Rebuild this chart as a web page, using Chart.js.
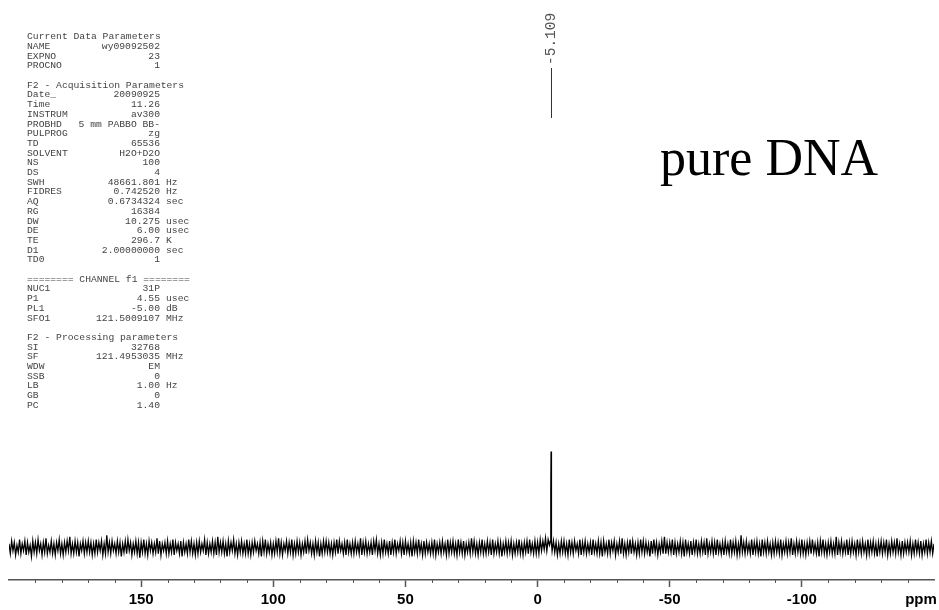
<!DOCTYPE html>
<html>
<head>
<meta charset="utf-8">
<script src="https://cdn.jsdelivr.net/npm/chart.js@4.4.0/dist/chart.umd.min.js"></script>
<style>
  html, body { margin: 0; padding: 0; background: #fff; }
  #wrap { width: 939px; height: 610px; position: relative; }
</style>
</head>
<body>
<div id="wrap"><canvas id="espectro"></canvas></div>
<script>
// 31P spectrum, 0.5 ppm steps from 200 down to -150 ppm (intensity in plot units)
const ppmStart = 200;
const ppmStep = 0.5;
const ruido = [
  3,-4,5,-2,4,-5,2,-3,6,-4,3,-2,5,-5,4,-3,2,-6,5,-3,
  4,-4,6,-2,3,-5,4,-3,7,-4,2,-3,5,-4,3,-5,4,-2,6,-4,
  3,-5,4,-3,5,-2,8,-4,3,-4,5,-3,4,-6,3,-2,5,-4,4,-3,
  5,-3,4,-5,3,-4,6,-3,4,-2,5,-5,3,-4,9,-3,4,-4,5,-2,
  3,-4,5,-3,4,-6,3,-3,5,-4,6,-2,4,-5,3,-3,5,-4,4,-7,
  4,-3,6,-4,3,-5,5,-2,4,-4,3,-3,7,-4,5,-5,3,-2,4,-4,
  5,-4,3,-3,6,-5,4,-2,3,-4,5,-6,4,-3,3,-4,6,-3,5,-4,
  3,-5,4,-4,5,-3,3,-2,6,-5,4,-4,3,-3,5,-4,4,-5,8,-3,
  4,-3,5,-4,3,-6,5,-3,4,-2,6,-4,3,-5,4,-3,5,-4,3,-4,
  6,-4,3,-5,4,-3,5,-2,3,-4,4,-6,5,-3,6,-4,3,-3,4,-5,
  3,-4,5,-3,7,-4,4,-5,3,-2,5,-4,4,-3,6,-5,3,-4,5,-3,
  4,-5,3,-3,5,-4,6,-2,4,-4,3,-5,5,-3,4,-6,3,-4,5,-3,
  5,-3,4,-4,3,-5,4,-3,6,-4,5,-2,3,-4,4,-5,6,-3,3,-4,
  4,-4,5,-3,3,-4,7,-5,4,-3,5,-4,3,-3,4,-5,5,-2,6,-4,
  3,-5,4,-4,6,-3,3,-4,5,-5,4,-3,6,-4,3,-2,5,-4,4,-5,
  5,-3,3,-4,4,-6,5,-3,4,-4,6,-3,3,-5,5,-4,4,-3,3,-4,
  4,-4,6,-5,3,-3,4,-4,5,-3,3,-5,6,-4,4,-3,5,-4,3,-5,
  6,-3,4,-4,5,-5,3,-3,4,-4,7,-3,5,-4,3,-5,4,-3,6,-4,
  3,-4,5,-3,4,-5,6,-4,3,-3,5,-4,4,-6,3,-3,5,-4,4,-3,
  5,-5,3,-4,4,-3,6,-4,3,-5,4,-3,5,-4,6,-3,3,-4,5,-4,
  4,-4,6,-2,5,-1,7,-2,6,-1,0,-4,5,-3,4,-5,3,-4,5,-3,
  5,-4,3,-5,6,-3,4,-4,5,-2,3,-4,6,-5,4,-3,5,-4,3,-3,
  4,-5,6,-3,3,-4,5,-4,4,-6,5,-3,3,-4,6,-4,4,-2,5,-5,
  3,-3,5,-4,7,-4,3,-5,4,-3,6,-4,5,-3,3,-5,4,-4,6,-3,
  5,-4,4,-3,3,-6,5,-4,6,-3,4,-5,3,-3,5,-4,8,-4,4,-3,
  4,-3,6,-5,4,-4,3,-3,5,-4,4,-6,6,-3,3,-4,5,-5,4,-3,
  6,-4,3,-4,5,-3,4,-5,7,-4,3,-3,5,-4,4,-5,6,-3,3,-4,
  4,-5,5,-3,3,-4,6,-4,4,-3,5,-5,3,-4,9,-3,4,-4,5,-3,
  3,-4,6,-5,4,-3,5,-4,3,-6,6,-3,4,-4,5,-3,3,-5,4,-4,
  5,-3,4,-4,6,-5,3,-3,5,-4,4,-3,7,-5,3,-4,5,-3,4,-4,
  6,-4,3,-5,4,-3,5,-4,6,-3,3,-4,4,-6,5,-3,6,-4,3,-5,
  4,-3,5,-4,3,-4,8,-5,4,-3,5,-4,3,-3,6,-5,4,-4,5,-3,
  3,-5,6,-3,4,-4,5,-3,3,-5,6,-4,4,-3,5,-4,3,-6,4,-3,
  5,-4,4,-3,6,-5,3,-4,5,-3,4,-4,7,-3,3,-5,5,-4,4,-3,
  4,-3,5,-5,3,-4,6,-3,4,-4,5,-5,3,-3,6,-4,4,-3,5,-4,
  3
];

// the single phosphate line
const picoPpm = [-4.5, -4.85, -4.98, -5.05, -5.109, -5.16, -5.23, -5.35, -5.5];
const picoInt = [2, 5, 16, 43, 69, 46, 17, 4, -2];
const picoLabel = '-5.109';

const eixoMin = -150;
const eixoMax = 200;
const eixoLabels = [150, 100, 50, 0, -50, -100];

const titulo = 'pure DNA';

const parametros = [
  ['Current Data Parameters', '', ''],
  ['NAME', 'wy09092502', ''],
  ['EXPNO', '23', ''],
  ['PROCNO', '1', ''],
  null,
  ['F2 - Acquisition Parameters', '', ''],
  ['Date_', '20090925', ''],
  ['Time', '11.26', ''],
  ['INSTRUM', 'av300', ''],
  ['PROBHD', '5 mm PABBO BB-', ''],
  ['PULPROG', 'zg', ''],
  ['TD', '65536', ''],
  ['SOLVENT', 'H2O+D2O', ''],
  ['NS', '100', ''],
  ['DS', '4', ''],
  ['SWH', '48661.801', 'Hz'],
  ['FIDRES', '0.742520', 'Hz'],
  ['AQ', '0.6734324', 'sec'],
  ['RG', '16384', ''],
  ['DW', '10.275', 'usec'],
  ['DE', '6.00', 'usec'],
  ['TE', '296.7', 'K'],
  ['D1', '2.00000000', 'sec'],
  ['TD0', '1', ''],
  null,
  ['======== CHANNEL f1 ========', '', ''],
  ['NUC1', '31P', ''],
  ['P1', '4.55', 'usec'],
  ['PL1', '-5.00', 'dB'],
  ['SFO1', '121.5009107', 'MHz'],
  null,
  ['F2 - Processing parameters', '', ''],
  ['SI', '32768', ''],
  ['SF', '121.4953035', 'MHz'],
  ['WDW', 'EM', ''],
  ['SSB', '0', ''],
  ['LB', '1.00', 'Hz'],
  ['GB', '0', ''],
  ['PC', '1.40', '']
];

function montaPontos() {
  const pontos = [];
  ruido.forEach((v, i) => {
    const ppm = ppmStart - i * ppmStep;
    if (ppm <= picoPpm[0] && ppm >= picoPpm[picoPpm.length - 1]) return;
    pontos.push({ x: ppm, y: v });
  });
  picoPpm.forEach((p, i) => pontos.push({ x: p, y: picoInt[i] }));
  pontos.sort((a, b) => b.x - a.x);
  return pontos;
}

const anotacoes = {
  id: 'anotacoes',
  afterDraw(chart) {
    const ctx = chart.ctx;
    const xs = chart.scales.x;
    const base = chart.chartArea.bottom;

    // minor ticks every 10 ppm
    ctx.save();
    ctx.strokeStyle = '#555';
    ctx.lineWidth = 1;
    for (let v = eixoMax - 10; v > eixoMin; v -= 10) {
      if (v % 50 === 0) continue;
      const px = Math.round(xs.getPixelForValue(v)) + 0.5;
      ctx.beginPath();
      ctx.moveTo(px, base);
      ctx.lineTo(px, base + 3);
      ctx.stroke();
    }

    ctx.fillStyle = '#000';
    ctx.font = 'bold 15px "Liberation Sans", Arial, sans-serif';
    ctx.textAlign = 'center';
    ctx.textBaseline = 'middle';
    ctx.fillText('ppm', 921, 600);

    // peak marker
    const xp = Math.round(xs.getPixelForValue(picoPpm[4])) + 0.5;
    ctx.strokeStyle = '#333';
    ctx.beginPath();
    ctx.moveTo(xp, 68);
    ctx.lineTo(xp, 118);
    ctx.stroke();
    ctx.save();
    ctx.translate(xp, 65);
    ctx.rotate(-Math.PI / 2);
    ctx.fillStyle = '#555';
    ctx.font = '14.5px "Liberation Mono", monospace';
    ctx.textAlign = 'left';
    ctx.textBaseline = 'middle';
    ctx.fillText(picoLabel, 0, 0);
    ctx.restore();

    // title
    ctx.fillStyle = '#000';
    ctx.font = '52px "Liberation Serif", "Times New Roman", serif';
    ctx.textAlign = 'left';
    ctx.textBaseline = 'alphabetic';
    ctx.fillText(titulo, 660, 175);

    // acquisition parameters block
    ctx.fillStyle = '#444';
    ctx.font = '9.7px "Liberation Mono", monospace';
    ctx.textBaseline = 'middle';
    parametros.forEach((linha, i) => {
      if (!linha) return;
      const y = 36.7 + i * 9.7;
      ctx.textAlign = 'left';
      ctx.fillText(linha[0], 27, y);
      if (linha[1]) {
        ctx.textAlign = 'right';
        ctx.fillText(linha[1], 160, y);
      }
      if (linha[2]) {
        ctx.textAlign = 'left';
        ctx.fillText(linha[2], 166, y);
      }
    });
    ctx.restore();
  }
};

function geraEspectro() {
  const canva = document.getElementById('espectro');

  new Chart(canva, {
    type: 'line',
    data: {
      datasets: [{
        data: montaPontos(),
        borderColor: '#000',
        borderWidth: 1.3,
        pointRadius: 0,
        tension: 0,
        fill: false
      }]
    },
    options: {
      responsive: true,
      maintainAspectRatio: false,
      animation: false,
      events: [],
      layout: { padding: { left: 9, right: 2, top: 0, bottom: -2 } },
      plugins: {
        legend: { display: false },
        tooltip: { enabled: false }
      },
      scales: {
        x: {
          type: 'linear',
          reverse: true,
          min: eixoMin,
          max: eixoMax,
          border: { display: true, color: '#555', width: 1.5 },
          grid: {
            drawOnChartArea: false,
            tickLength: 7,
            tickWidth: 1.5,
            tickColor: ctx => (ctx.tick && eixoLabels.includes(ctx.tick.value)) ? '#555' : 'rgba(0,0,0,0)'
          },
          ticks: {
            stepSize: 10,
            autoSkip: false,
            maxRotation: 0,
            padding: 5,
            color: '#000',
            font: { family: '"Liberation Sans", Arial, sans-serif', weight: 'bold', size: 15, lineHeight: 1 },
            callback: v => eixoLabels.includes(v) ? String(v) : ''
          }
        },
        y: {
          display: false,
          min: -22.86,
          max: 391.43
        }
      }
    },
    plugins: [anotacoes]
  });
}

geraEspectro();
</script>
</body>
</html>
